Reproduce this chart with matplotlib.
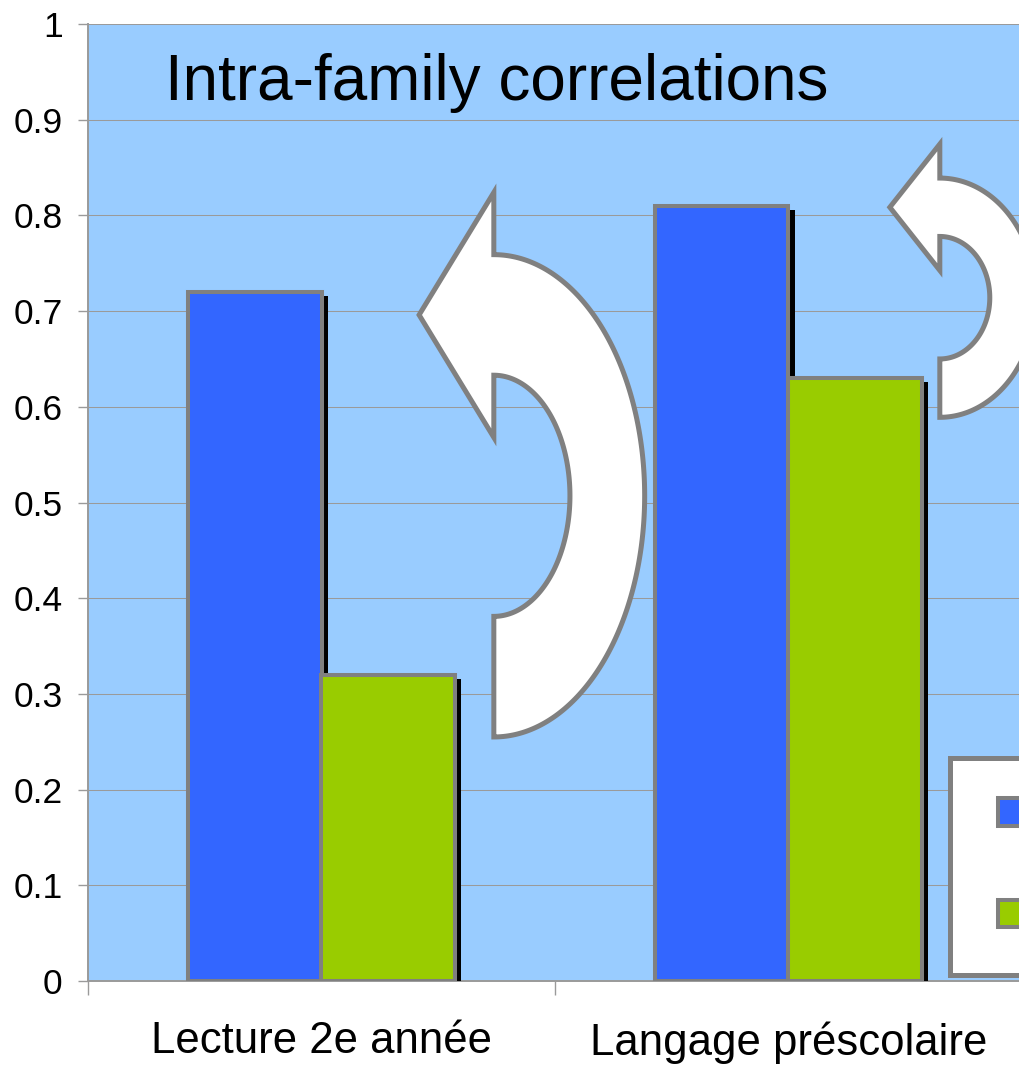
import numpy as np
import matplotlib
matplotlib.use("Agg")
import matplotlib.pyplot as plt
from matplotlib.patches import Rectangle, PathPatch
from matplotlib.path import Path
from matplotlib.legend_handler import HandlerPatch
import matplotlib.patheffects as pe

# ---- data ----
categories = ["Lecture 2e année", "Langage préscolaire"]
series_names = ["MZ", "DZ"]
mz_values = [0.72, 0.81]
dz_values = [0.32, 0.63]
y_ticks = [0, 0.1, 0.2, 0.3, 0.4, 0.5, 0.6, 0.7, 0.8, 0.9, 1]
y_tick_labels = ["0", "0.1", "0.2", "0.3", "0.4", "0.5", "0.6", "0.7", "0.8", "0.9", "1"]
title = "Intra-family correlations"

# ---- style ----
BG = "#99CCFF"
BLUE = "#3366FF"
GREEN = "#99CC00"
EDGE = "#808080"
GRID = "#9a9a9a"

plt.rcParams["font.family"] = ["Liberation Sans", "DejaVu Sans"]

W, H = 1020, 1067
fig = plt.figure(figsize=(W / 100, H / 100), dpi=100)
fig.patch.set_facecolor("white")

ax = fig.add_axes([88 / W, 1 - 981 / H, (1022 - 88) / W, (981 - 24) / H])
ax.set_facecolor(BG)

x = np.arange(len(categories)) + 0.5
width = 0.286

shadow = [pe.SimplePatchShadow(offset=(4.5, -3), shadow_rgbFace="black", alpha=1.0),
          pe.Normal()]

bars_mz = ax.bar(x - width / 2, mz_values, width, color=BLUE, edgecolor=EDGE,
                 linewidth=2.9, zorder=3)
bars_dz = ax.bar(x + width / 2, dz_values, width, color=GREEN, edgecolor=EDGE,
                 linewidth=2.9, zorder=3)
for bar in list(bars_mz) + list(bars_dz):
    bar.set_path_effects(shadow)
    bar.set_joinstyle("miter")

ax.set_xlim(0, len(categories))
ax.set_ylim(0, 1)

# y axis
ax.set_yticks(y_ticks)
ax.set_yticklabels(y_tick_labels, fontsize=25.5)
ax.tick_params(axis="y", length=7.2, width=1, color=GRID, pad=11)
ax.yaxis.grid(True, color=GRID, linewidth=0.75)
ax.set_axisbelow(True)

# x axis: tick marks between categories, labels centred on them
ax.set_xticks(np.arange(len(categories) + 1))
ax.set_xticklabels([])
ax.set_xticks(x, minor=True)
ax.set_xticklabels(categories, minor=True, fontsize=31.5)
ax.tick_params(axis="x", which="major", length=10, width=1, color=GRID)
ax.tick_params(axis="x", which="minor", length=0, pad=29)

for side in ("top", "right"):
    ax.spines[side].set_visible(False)
for side in ("left", "bottom"):
    ax.spines[side].set_color(GRID)
    ax.spines[side].set_linewidth(1.4)


def curved_arrow(cx, cy, rxo, ryo, rxi, ryi, tip_x, head):
    """U-shaped arrow bending round to the right and pointing back left."""
    t = np.linspace(-np.pi / 2, np.pi / 2, 200)
    outer = np.column_stack([cx + rxo * np.cos(t), cy + ryo * np.sin(t)])
    inner = np.column_stack([cx + rxi * np.cos(t[::-1]), cy + ryi * np.sin(t[::-1])])
    tip_y = cy + (ryo + ryi) / 2
    head_pts = np.array([[cx, cy + ryo + head], [tip_x, tip_y], [cx, cy + ryi - head]])
    verts = np.vstack([outer, head_pts, inner, outer[:1]])
    codes = [Path.MOVETO] + [Path.LINETO] * (len(verts) - 2) + [Path.CLOSEPOLY]
    patch = PathPatch(Path(verts, codes), facecolor="white", edgecolor=EDGE,
                      linewidth=3.6, joinstyle="miter", zorder=4, clip_on=False)
    ax.add_patch(patch)


curved_arrow(0.869, 0.507, 0.323, 0.252, 0.163, 0.126, 0.709, 0.065)
curved_arrow(1.824, 0.714, 0.206, 0.125, 0.107, 0.064, 1.717, 0.0355)


class SquareHandler(HandlerPatch):
    def create_artists(self, legend, orig_handle, xdescent, ydescent,
                       width, height, fontsize, trans):
        side = height
        p = Rectangle((-xdescent + width - side, -ydescent), side, side)
        self.update_prop(p, orig_handle, legend)
        p.set_transform(trans)
        return [p]


proxies = [Rectangle((0, 0), 1, 1, facecolor=BLUE, edgecolor=EDGE, linewidth=2.9),
           Rectangle((0, 0), 1, 1, facecolor=GREEN, edgecolor=EDGE, linewidth=2.9)]
leg = ax.legend(proxies, series_names, loc="upper left",
                bbox_to_anchor=(950.5 / W, 1 - 757.5 / H), bbox_transform=fig.transFigure,
                borderaxespad=0, fontsize=30, frameon=True, fancybox=False,
                framealpha=1, edgecolor=EDGE, borderpad=0.91, labelspacing=1.48,
                handlelength=0.89, handleheight=0.648, handletextpad=0.5,
                handler_map={Rectangle: SquareHandler()})
leg.get_frame().set_linewidth(3.6)
leg.set_zorder(6)

fig.text(165 / W, 1 - 100 / H, title, fontsize=46, ha="left", va="baseline")

fig.savefig("out.png", dpi=100, facecolor="white")
